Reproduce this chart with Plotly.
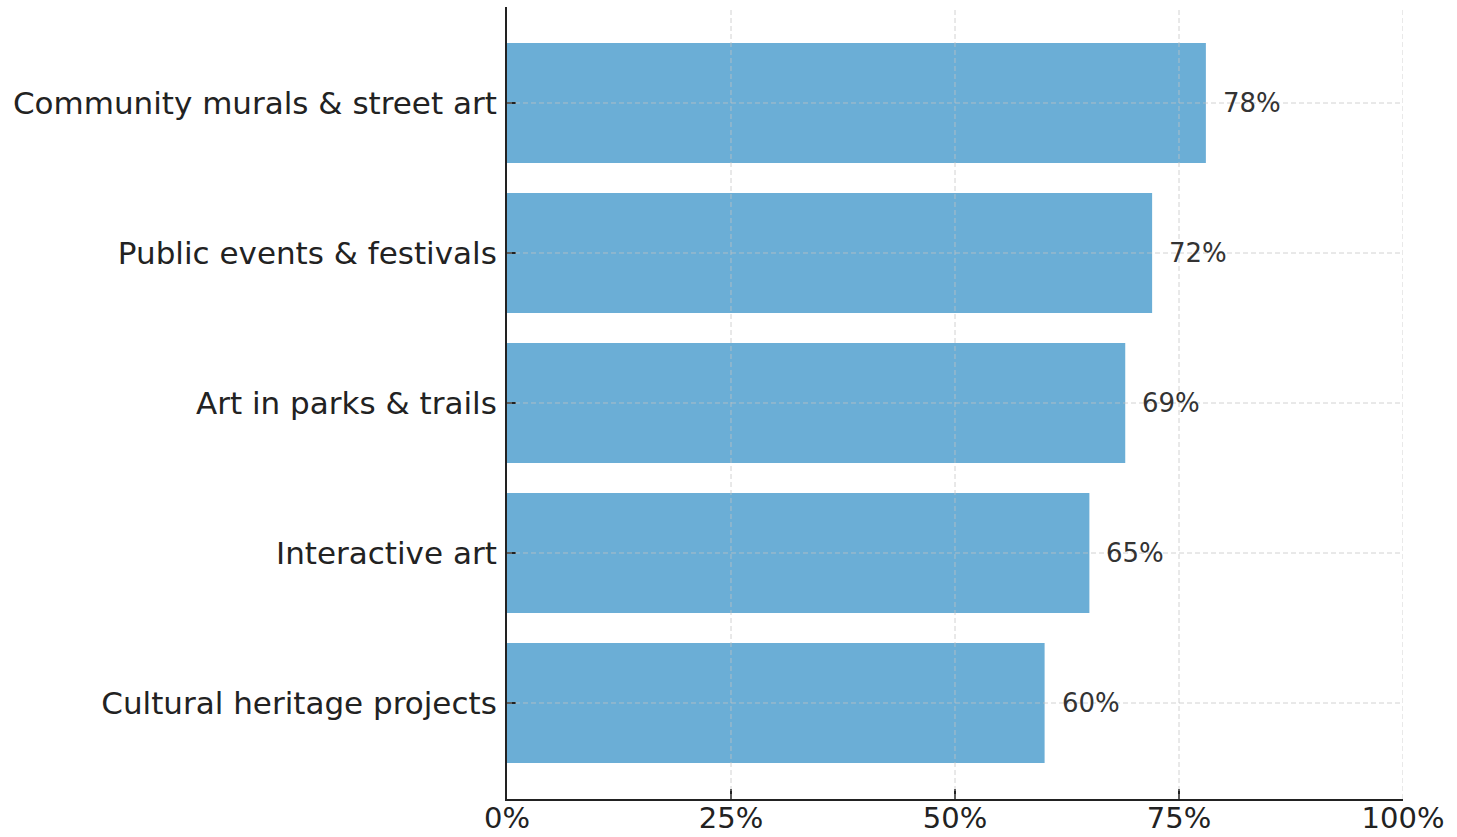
import plotly.graph_objects as go

# Share of respondents supporting each type of public art
categories = [
    "Community murals & street art",
    "Public events & festivals",
    "Art in parks & trails",
    "Interactive art",
    "Cultural heritage projects",
]
support_pct = [78, 72, 69, 65, 60]

x_ticks = [0, 25, 50, 75, 100]
x_tick_labels = ["0%", "25%", "50%", "75%", "100%"]

BAR_COLOR = "#6baed6"
GRID_COLOR = "rgba(195,195,195,0.75)"
FONT = "DejaVu Sans"

fig = go.Figure(
    go.Bar(
        x=support_pct,
        y=categories,
        orientation="h",
        width=0.8,
        marker=dict(color=BAR_COLOR, line=dict(width=0)),
        hoverinfo="skip",
    )
)

# Value labels to the right of each bar
for cat, val in zip(categories, support_pct):
    fig.add_annotation(
        x=val, y=cat, xref="x", yref="y",
        text=f"{val}%", showarrow=False,
        xanchor="left", yanchor="middle", xshift=15,
        font=dict(family=FONT, size=26, color="#333333"),
    )

# Dashed grid drawn on top of the bars
for t in x_ticks[1:]:
    fig.add_shape(
        type="line", xref="x", yref="paper",
        x0=t, x1=t, y0=0, y1=1, layer="above",
        line=dict(color=GRID_COLOR, width=1, dash="5px,3px"),
    )
for cat in categories:
    fig.add_shape(
        type="line", xref="x", yref="y",
        x0=0, x1=100, y0=cat, y1=cat, layer="above",
        line=dict(color=GRID_COLOR, width=1, dash="5px,3px"),
    )

fig.update_layout(
    width=1457,
    height=837,
    margin=dict(l=507, r=54, t=7, b=38),
    paper_bgcolor="white",
    plot_bgcolor="white",
    showlegend=False,
    bargap=0.2,
    font=dict(family=FONT, color="#222222"),
)

fig.update_xaxes(
    range=[0, 100],
    tickvals=x_ticks,
    ticktext=x_tick_labels,
    showgrid=False,
    zeroline=False,
    showline=True,
    linecolor="#222222",
    linewidth=2,
    ticks="inside",
    ticklen=10,
    tickwidth=1.5,
    tickcolor="#222222",
    ticklabelstandoff=-8,
    tickfont=dict(family=FONT, size=29, color="#222222"),
    automargin=False,
    layer="above traces",
)

fig.update_yaxes(
    type="category",
    categoryorder="array",
    categoryarray=categories,
    range=[4.64, -0.64],
    showgrid=False,
    zeroline=False,
    showline=True,
    linecolor="#222222",
    linewidth=2,
    ticks="inside",
    ticklen=9,
    tickwidth=1.5,
    tickcolor="#222222",
    ticklabelstandoff=2,
    tickfont=dict(family=FONT, size=31, color="#222222"),
    automargin=False,
    layer="above traces",
)

fig.write_html("out.html")
